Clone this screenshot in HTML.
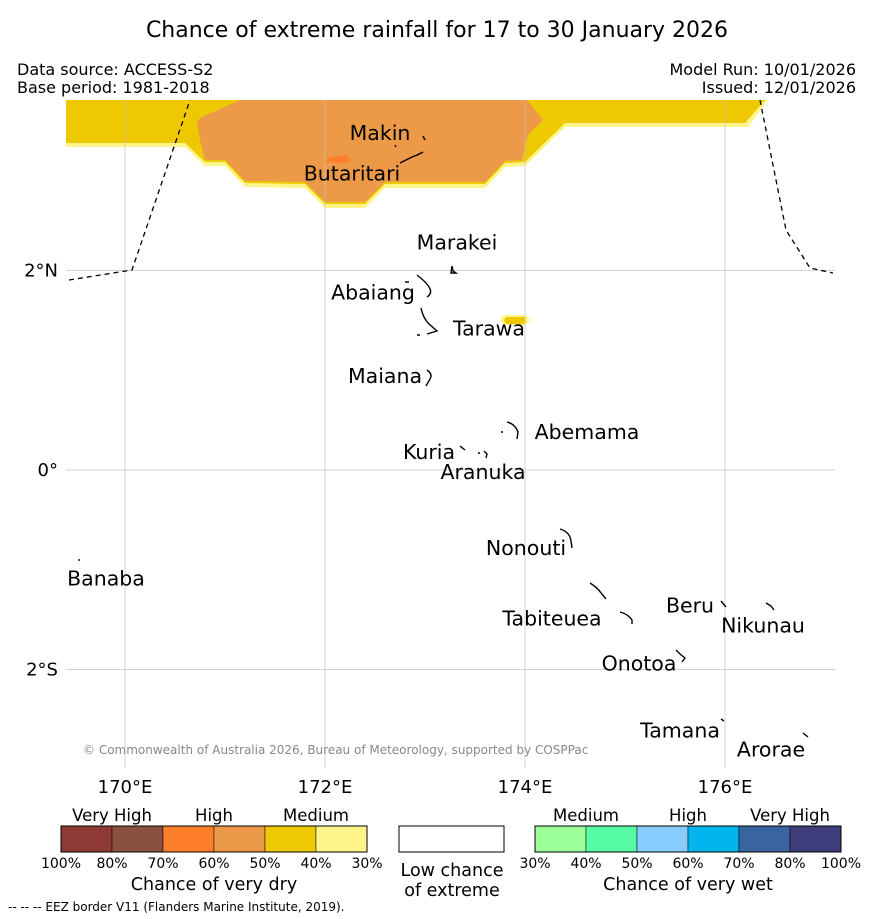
<!DOCTYPE html>
<html><head><meta charset="utf-8"><style>
body{margin:0;background:#fff;}
svg{display:block;font-family:"DejaVu Sans","Liberation Sans",sans-serif;}
</style></head><body>
<svg id="chart" width="873" height="919" viewBox="0 0 873 919">
<text x="437" y="37" font-size="22" text-anchor="middle">Chance of extreme rainfall for 17 to 30 January 2026</text>
<text x="17" y="75" font-size="16">Data source: ACCESS-S2</text>
<text x="17" y="93" font-size="16">Base period: 1981-2018</text>
<text x="856" y="75" font-size="16" text-anchor="end">Model Run: 10/01/2026</text>
<text x="856" y="93" font-size="16" text-anchor="end">Issued: 12/01/2026</text>
<g id="map">
<defs><clipPath id="mc"><rect x="66" y="100" width="769" height="668"/></clipPath></defs>
<g clip-path="url(#mc)">
<polygon fill="#fdf58a" points="66,100 66,147 185,147 205,166 225,166 245,187 305,188 325,208 365,208 385,188 485,188 505,167 525,166 565,127 748,127 768,100"/>
<polygon fill="#eec800" points="66,100 66,143 185,143 205,162 225,162 245,183 305,184 325,204 365,204 385,184 485,184 505,163 525,162 565,123 745,123 765,100"/>
<polygon fill="#ec9a48" points="240,100 200,118 197,122 200,140 205,160 225,160 245,181 305,182 325,202 365,202 385,182 485,182 505,161 522,160 528,135 543,120 527,100"/>
<polygon fill="#fd7f2a" points="324,162 330,157 345,155 352,160 345,163"/>
<polygon fill="#fdf58a" points="500,320 504,315 526,315 530,320 526,325 504,325"/>
<polygon fill="#eec800" points="504,320 506,317 524,317 526,321 524,324 506,324"/>
</g>
<g id="grid" stroke="#c4c4c4" stroke-width="0.7"></g>
<g fill="none" stroke="#000" stroke-width="1.3" stroke-dasharray="5,4">
<polyline points="69,280 132,270 190,100"/>
<polyline points="760,100 786,230 810,268 833,273"/>
</g>
<g fill="none" stroke="#000" stroke-width="1.4">
<path d="M423,136 l2,4 M395,145 l1,2 M400,163 q8,-4 12,-6 q6,-2 11,-5"/>
<path d="M452,266 l1,5 l3,2 l-5,0 z"/>
<path d="M417,275 q10,8 12,12 q4,6 -2,10 M405,282 l4,0"/>
<path d="M421,308 q2,10 8,16 l8,7 l-10,3 M417,335 l3,0"/>
<path d="M427,370 q6,4 3,9 l-4,7"/>
<path d="M507,422 q8,2 11,10 l-1,7 M501,432 l2,0"/>
<path d="M460,446 l5,4 M478,453 l2,0 M484,451 l3,3 l-1,4"/>
<path d="M560,529 q10,3 11,12 l1,7"/>
<path d="M78,560 l2,0"/>
<path d="M590,583 q8,5 11,10 l5,6 M620,612 q8,2 12,8 l0,4"/>
<path d="M721,601 l5,6 M766,603 l5,3 l3,4"/>
<path d="M676,650 l4,4 l5,4 l-3,4"/>
<path d="M721,719 l3,2 M803,733 l5,4"/>
</g>
<g id="labels" font-size="20.5"></g>
<text x="83" y="754" font-size="12" fill="#888">© Commonwealth of Australia 2026, Bureau of Meteorology, supported by COSPPac</text>
<g id="axes" font-size="18"></g>
</g>
<g id="legend"></g>
<text x="8" y="911" font-size="12">-- -- -- EEZ border V11 (Flanders Marine Institute, 2019).</text>
</svg>
<script>
const lonTicks=[170,172,174,176];
const lonTickLabels=["170°E","172°E","174°E","176°E"];
const latTicks=[2,0,-2];
const latTickLabels=["2°N","0°","2°S"];
const islandNames=["Makin","Butaritari","Marakei","Abaiang","Tarawa","Maiana","Abemama","Kuria","Aranuka","Nonouti","Banaba","Tabiteuea","Beru","Nikunau","Onotoa","Tamana","Arorae"];
const islandLon=[172.55,172.27,173.32,172.48,173.64,172.6,174.62,173.04,173.58,174.01,169.81,174.27,175.65,176.38,175.14,175.55,176.46];
const islandLat=[3.38,2.97,2.28,1.78,1.42,0.94,0.38,0.18,-0.02,-0.78,-1.09,-1.49,-1.36,-1.56,-1.94,-2.61,-2.8];
const dryLabels=["100%","80%","70%","60%","50%","40%","30%"];
const wetLabels=["30%","40%","50%","60%","70%","80%","100%"];
const dryColors=["#8e3b35","#8b5140","#fd7f2a","#ec9a48","#eec800","#fdf58a"];
const wetColors=["#9cfe97","#57fda4","#86ccfc","#00b4ec","#3a64a0","#3f3c7b"];
const dryCats=["Very High","High","Medium"];
const wetCats=["Medium","High","Very High"];
const NS="http://www.w3.org/2000/svg";
const x=lon=>125+(lon-170)*100;
const y=lat=>470-lat*99.75;
function mk(tag,attrs,parent,txt){const e=document.createElementNS(NS,tag);for(const k in attrs)e.setAttribute(k,attrs[k]);if(txt!==undefined)e.textContent=txt;parent.appendChild(e);return e;}
const grid=document.getElementById('grid'),axes=document.getElementById('axes'),labels=document.getElementById('labels'),legend=document.getElementById('legend');
lonTicks.forEach((v,i)=>{
 const l=mk('line',{x1:x(v),x2:x(v),y1:100,y2:768},grid);
 
 
 const t=mk('text',{x:x(v),y:793,'text-anchor':'middle'},axes,lonTickLabels[i]);
 
 
});
latTicks.forEach((v,i)=>{
 const l=mk('line',{x1:66,x2:835,y1:y(v),y2:y(v)},grid);
 
 
 const t=mk('text',{x:58,y:y(v)+6,'text-anchor':'end'},axes,latTickLabels[i]);
 
 
});
islandNames.forEach((n,i)=>{
 const t=mk('text',{x:x(islandLon[i]),y:y(islandLat[i])+7,'text-anchor':'middle'},labels,n);
 
 
});
function bar(x0,colors,ticks,cats,title){
 const w=51;
 colors.forEach((c,i)=>{
  const r=mk('rect',{x:x0+i*w,y:826,width:w,height:26,fill:c,stroke:'#000','stroke-width':0.5},legend);
  
  
 });
 const b=mk('rect',{x:x0,y:826,width:w*colors.length,height:26,fill:'none',stroke:'#000','stroke-width':1},legend);
 
 
 ticks.forEach((t,i)=>{
  const e=mk('text',{x:x0+i*w,y:868,'text-anchor':'middle','font-size':14},legend,t);
  
  
 });
 cats.forEach((c,i)=>{
  const e=mk('text',{x:x0+w+i*2*w,y:821,'text-anchor':'middle','font-size':16.5},legend,c);
  
  
 });
 const tt=mk('text',{x:x0+w*3,y:890,'text-anchor':'middle','font-size':17.5},legend,title);
 
 
}
bar(61,dryColors,dryLabels,dryCats,"Chance of very dry");
bar(535,wetColors,wetLabels,wetCats,"Chance of very wet");
const lo=mk('rect',{x:399,y:826,width:105,height:26,fill:'#fff',stroke:'#000','stroke-width':1},legend);


const l1=mk('text',{x:452,y:876,'text-anchor':'middle','font-size':17.5},legend,"Low chance");


const l2=mk('text',{x:452,y:896,'text-anchor':'middle','font-size':17.5},legend,"of extreme");


</script>
</body></html>
